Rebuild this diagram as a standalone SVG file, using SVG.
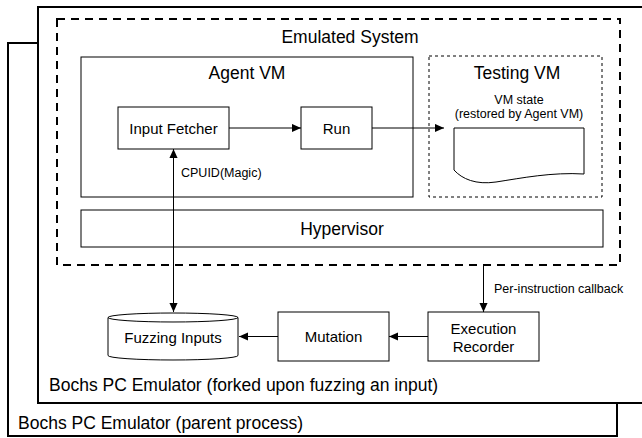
<svg xmlns="http://www.w3.org/2000/svg" width="642" height="438" viewBox="0 0 642 438">
<style>
text{font-family:"Liberation Sans",Arial,Helvetica,sans-serif;fill:#000}
.t{font-size:17.5px}
.n{font-size:15px}
.s{font-size:12.5px}
.m{text-anchor:middle}
.outer{fill:#fff;stroke:#000;stroke-width:2}
.box{fill:#fff;stroke:#000;stroke-width:1}
.edge{fill:none;stroke:#000;stroke-width:1}
</style>
<defs>
<marker id="ah" viewBox="0 0 10 10" refX="10" refY="5" markerWidth="9" markerHeight="9" markerUnits="userSpaceOnUse" orient="auto-start-reverse">
<path d="M0,0.5 L10,5 L0,9.5 Z" fill="#000"/>
</marker>
</defs>
<rect width="642" height="438" fill="#fff"/>
<g id="parent">
<rect class="outer" x="8" y="43" width="609" height="393"/>
<text x="18" y="429" class="t">Bochs PC Emulator (parent process)</text>
</g>
<g id="forked">
<rect class="outer" x="38" y="7" width="610" height="396"/>
<text x="49" y="391" class="t">Bochs PC Emulator (forked upon fuzzing an input)</text>
</g>
<g id="emulated">
<rect x="57" y="19" width="563" height="246" fill="none" stroke="#000" stroke-width="2" stroke-dasharray="8,6"/>
<text x="350" y="43" class="t m">Emulated System</text>
</g>
<g id="agent-vm">
<rect class="box" x="81" y="57" width="332" height="140"/>
<text x="247" y="79" class="t m">Agent VM</text>
</g>
<g id="testing-vm">
<rect x="429" y="56" width="173" height="141" fill="none" stroke="#000" stroke-width="1" stroke-dasharray="3,3"/>
<text x="517" y="79" class="t m">Testing VM</text>
<text x="519" y="104" class="s m">VM state</text>
<text x="519" y="118" class="s m">(restored by Agent VM)</text>
</g>
<g id="vm-state">
<path d="M454,128 H584 V174 C552,172 522,178 496,182 C476,185 462,179 454,170 Z" fill="#fff" stroke="#000" stroke-width="1"/>
</g>
<g id="input-fetcher">
<rect class="box" x="118" y="107" width="111" height="42"/>
<text x="173.5" y="133.5" class="n m">Input Fetcher</text>
</g>
<g id="run">
<rect class="box" x="301" y="107" width="71" height="42"/>
<text x="336.5" y="133.5" class="n m">Run</text>
</g>
<g id="hypervisor">
<rect class="box" x="81" y="210" width="522" height="37"/>
<text x="342" y="235" class="t m">Hypervisor</text>
</g>
<g id="fuzzing-inputs">
<path d="M108,317.5 A65,4.5 0 0 1 238,317.5 V355.5 A65,4.5 0 0 1 108,355.5 Z" fill="#fff" stroke="#000" stroke-width="1"/>
<path d="M108,317.5 A65,4.5 0 0 0 238,317.5" fill="none" stroke="#000" stroke-width="1"/>
<text x="173" y="342.5" class="n m">Fuzzing Inputs</text>
</g>
<g id="mutation">
<rect class="box" x="278" y="312" width="111" height="49"/>
<text x="333.5" y="342" class="n m">Mutation</text>
</g>
<g id="execution-recorder">
<rect class="box" x="428" y="312" width="111" height="49"/>
<text x="483.5" y="333.5" class="n m">Execution</text>
<text x="483.5" y="351.5" class="n m">Recorder</text>
</g>
<g id="connectors">
<line class="edge" x1="229" y1="128" x2="301" y2="128" marker-end="url(#ah)"/>
<line class="edge" x1="372" y1="128" x2="444" y2="128" marker-end="url(#ah)"/>
<line class="edge" x1="173.5" y1="149" x2="173.5" y2="312" marker-start="url(#ah)" marker-end="url(#ah)"/>
<text x="181" y="176.5" class="s">CPUID(Magic)</text>
<line class="edge" x1="483.5" y1="266" x2="483.5" y2="312" marker-end="url(#ah)"/>
<text x="494" y="292.5" class="s">Per-instruction callback</text>
<line class="edge" x1="428" y1="336.5" x2="389" y2="336.5" marker-end="url(#ah)"/>
<line class="edge" x1="278" y1="336.5" x2="239" y2="336.5" marker-end="url(#ah)"/>
</g>
</svg>
